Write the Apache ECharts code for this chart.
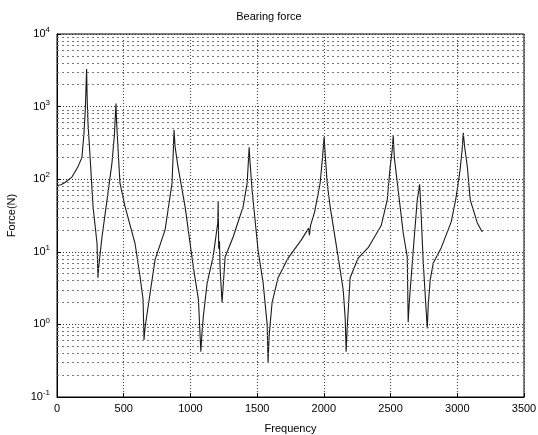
<!DOCTYPE html>
<html>
<head>
<meta charset="utf-8">
<script src="https://cdn.jsdelivr.net/npm/echarts@6/dist/echarts.min.js"></script>
<style>
html,body{margin:0;padding:0;background:#fff;}
#c{width:538px;height:435px;}
</style>
</head>
<body>
<div id="c"></div>
<script>
const freq = [0,30,60,112,157,187,202,212,218,222,226,232,245,270,300,307,312,337,375,412,430,438,442,447,458,472,510,585,622,645,652,660,675,735,810,862,872,877,885,907,960,1022,1060,1078,1085,1097,1125,1170,1205,1208,1212,1218,1222,1237,1260,1320,1395,1425,1436,1440,1446,1462,1507,1545,1575,1582,1590,1612,1657,1732,1830,1885,1892,1900,1930,1972,1990,2002,2010,2025,2047,2107,2145,2160,2167,2175,2197,2257,2332,2430,2475,2497,2512,2520,2528,2557,2595,2625,2632,2640,2670,2700,2718,2722,2727,2745,2775,2782,2797,2820,2880,2955,2990,3020,3036,3045,3055,3075,3097,3150,3187];
const force = [82,84,90,107,148,200,430,900,2000,3300,1300,600,250,42,13,4.4,6,16,52,168,400,800,1100,600,250,88,42,13,4.6,2.2,0.61,0.9,1.4,7.8,20,88,250,480,280,148,42,6.1,2.2,0.42,0.7,1.3,3.7,8.5,25,49,11,14,6,2,8.5,16,42,88,200,275,180,71,10.5,3.7,1.0,0.30,0.7,2,4.4,8.2,14.5,21,17,23,35,88,200,380,220,88,42,8.5,3,1.2,0.42,0.9,4.4,8.2,11.4,23,52,148,250,400,200,71,18,8.5,1.07,2,10.5,52,85,90,40,7,0.88,1.8,4.1,7,11.4,26,55,130,250,435,280,150,52,25,18.7];
const xTicks = [0,500,1000,1500,2000,2500,3000,3500];
const yDecades = [0.1,1,10,100,1000,10000];
const minorGridValues = [0.2,0.3,0.4,0.5,0.6,0.7,0.8,0.9,2,3,4,5,6,7,8,9,20,30,40,50,60,70,80,90,200,300,400,500,600,700,800,900,2000,3000,4000,5000,6000,7000,8000,9000];

const chart = echarts.init(document.getElementById('c'), null, {renderer:'canvas'});
const FONT = '"Liberation Sans", Arial, sans-serif';
const expOf = v => Math.round(Math.log10(v));
chart.setOption({
  animation:false,
  backgroundColor:'#fff',
  title:{text:'Bearing force',left:'center',top:6,textStyle:{fontSize:11,fontWeight:'normal',color:'#000',fontFamily:FONT}},
  grid:{left:57,right:14,top:34,bottom:38,containLabel:false,outerBoundsMode:'none',show:true,borderColor:'#000',borderWidth:1,backgroundColor:'transparent'},
  xAxis:{type:'value',min:xTicks[0],max:xTicks[xTicks.length-1],interval:500,
    name:'Frequency',nameLocation:'middle',nameGap:26,
    nameTextStyle:{fontSize:11,color:'#000',fontFamily:FONT},
    axisLine:{lineStyle:{color:'#000'}},
    axisTick:{inside:true,length:4,lineStyle:{color:'#000'}},
    axisLabel:{fontSize:11,color:'#000',fontFamily:FONT,margin:6,formatter:v=>String(v)},
    splitLine:{show:true,lineStyle:{color:'#444',type:[1,2],width:1}}},
  yAxis:{type:'log',logBase:10,min:yDecades[0],max:yDecades[yDecades.length-1],
    name:'Force(N)',nameLocation:'middle',nameGap:40,nameRotate:90,
    nameTextStyle:{fontSize:11,color:'#000',fontFamily:FONT},
    axisLine:{lineStyle:{color:'#000'}},
    axisTick:{inside:true,length:4,lineStyle:{color:'#000'}},
    axisLabel:{color:'#000',margin:7,
      formatter:v=>'{b|10}{s|'+expOf(v)+'}',
      rich:{b:{fontSize:11,fontFamily:FONT,color:'#000'},s:{fontSize:8,fontFamily:FONT,color:'#000',verticalAlign:'top',padding:[0,0,8,0]}}},
    splitLine:{show:true,lineStyle:{color:'#333',type:[1,2],width:1}}},
  series:[{
    type:'line',
    data:freq.map((f,i)=>[f,force[i]]),
    showSymbol:false,symbol:'none',
    lineStyle:{color:'#1a1a1a',width:1.1},
    markLine:{silent:true,symbol:'none',label:{show:false},
      lineStyle:{color:'#777',type:[2,3],width:1},
      data:minorGridValues.map(v=>({yAxis:v}))}
  }]
});
</script>
</body>
</html>
